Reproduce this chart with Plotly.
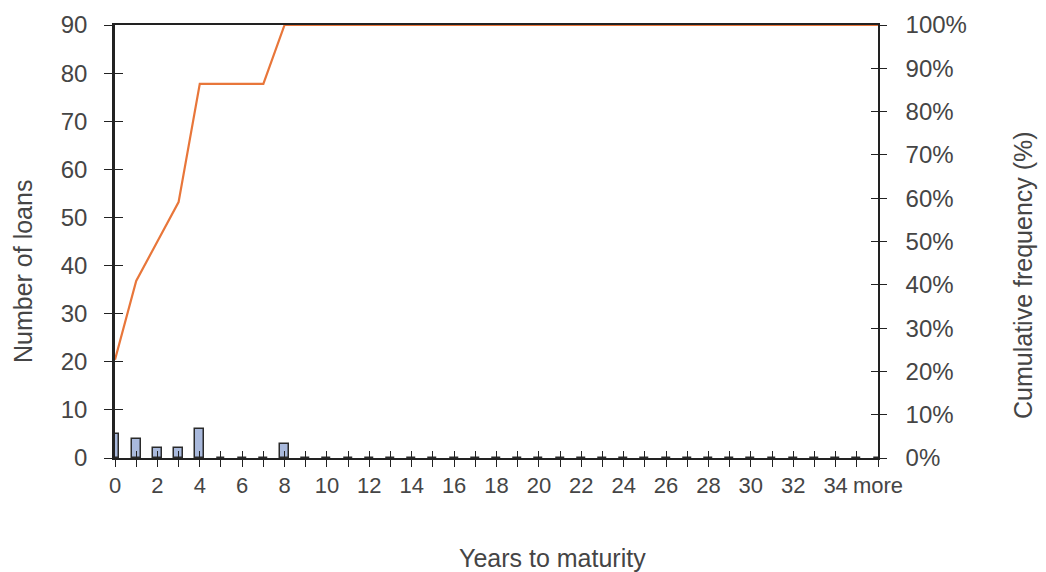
import plotly.graph_objects as go

categories = [str(i) for i in range(36)] + ["more"]
loans = [5, 4, 2, 2, 6, 0, 0, 0, 3] + [0] * 28
cumulative_pct = [22.7, 40.9, 50.0, 59.1, 86.4, 86.4, 86.4, 86.4, 100.0] + [100.0] * 28
tick_labels = [c if i % 2 == 0 else "" for i, c in enumerate(categories)]
left_ticks = list(range(0, 91, 10))
right_ticks = list(range(0, 101, 10))
right_labels = [f"{v}%" for v in right_ticks]

xpos = list(range(len(categories)))

FONT = "Liberation Sans, Arial, sans-serif"
TXT = "#454545"
AX = "#222222"

fig = go.Figure()
fig.add_trace(go.Bar(
    x=xpos, y=loans, width=0.42,
    marker=dict(color="#a9b9dc", line=dict(color="#2a2a2a", width=1.5)),
    yaxis="y", xaxis="x", showlegend=False,
))
fig.add_trace(go.Scatter(
    x=xpos, y=cumulative_pct, mode="lines",
    line=dict(color="#e8763a", width=2.2),
    yaxis="y2", xaxis="x", showlegend=False, cliponaxis=False,
))

fig.update_layout(
    width=1046, height=572,
    margin=dict(l=115, r=168, t=25, b=114),
    paper_bgcolor="white", plot_bgcolor="white",
    bargap=0,
    xaxis=dict(
        range=[0, 36], tickvals=xpos, ticktext=tick_labels,
        showgrid=False, zeroline=False,
        showline=True, linecolor=AX, linewidth=1.5, mirror=True,
        ticks="outside", ticklen=7, tickcolor=AX, tickwidth=1.2,
        ticklabelstandoff=0,
        tickfont=dict(family=FONT, size=22, color=TXT),
    ),
    xaxis3=dict(
        range=[0, 36], tickvals=xpos, overlaying="x", matches="x",
        showticklabels=False, showgrid=False, zeroline=False,
        ticks="inside", ticklen=7, tickcolor=AX, tickwidth=1.2,
        anchor="y",
    ),
    yaxis=dict(
        range=[0, 90], tickvals=left_ticks,
        showgrid=False, zeroline=False,
        showline=True, linecolor=AX, linewidth=2.5,
        ticks="outside", ticklen=8, tickcolor=AX, tickwidth=1.2,
        ticklabelstandoff=12,
        tickfont=dict(family=FONT, size=24, color=TXT),
    ),
    yaxis3=dict(
        range=[0, 90], tickvals=left_ticks, overlaying="y",
        showticklabels=False, showgrid=False, zeroline=False,
        ticks="inside", ticklen=8, tickcolor=AX, tickwidth=1.2,
        anchor="x", side="left",
    ),
    yaxis2=dict(
        range=[0, 100], tickvals=right_ticks, ticktext=right_labels,
        overlaying="y", side="right", anchor="x",
        showgrid=False, zeroline=False,
        showline=True, linecolor=AX, linewidth=1.5,
        ticks="outside", ticklen=7, tickcolor=AX, tickwidth=1.2,
        ticklabelstandoff=14,
        tickfont=dict(family=FONT, size=24, color=TXT),
    ),
    yaxis4=dict(
        range=[0, 100], tickvals=right_ticks, overlaying="y",
        side="right", anchor="x",
        showticklabels=False, showgrid=False, zeroline=False,
        ticks="inside", ticklen=7, tickcolor=AX, tickwidth=1.2,
    ),
    annotations=[
        dict(text="Years to maturity", xref="paper", yref="paper",
             x=(552 - 115) / (878 - 115), y=-(558 - 458) / (458 - 25),
             xanchor="center", yanchor="middle", showarrow=False,
             font=dict(family=FONT, size=25, color=TXT)),
        dict(text="Number of loans", xref="paper", yref="paper",
             x=(23 - 115) / (878 - 115), y=(458 - 272) / (458 - 25),
             xanchor="center", yanchor="middle", showarrow=False, textangle=-90,
             font=dict(family=FONT, size=25, color=TXT)),
        dict(text="Cumulative frequency (%)", xref="paper", yref="paper",
             x=(1023 - 115) / (878 - 115), y=(458 - 275) / (458 - 25),
             xanchor="center", yanchor="middle", showarrow=False, textangle=-90,
             font=dict(family=FONT, size=25, color=TXT)),
    ],
)

# invisible traces to activate overlay axes (gives ticks that cross the axis lines)
fig.add_trace(go.Scatter(x=[None], y=[None], xaxis="x3", yaxis="y3", showlegend=False, hoverinfo="skip"))
fig.add_trace(go.Scatter(x=[None], y=[None], xaxis="x", yaxis="y4", showlegend=False, hoverinfo="skip"))

fig.write_html("out.html")
